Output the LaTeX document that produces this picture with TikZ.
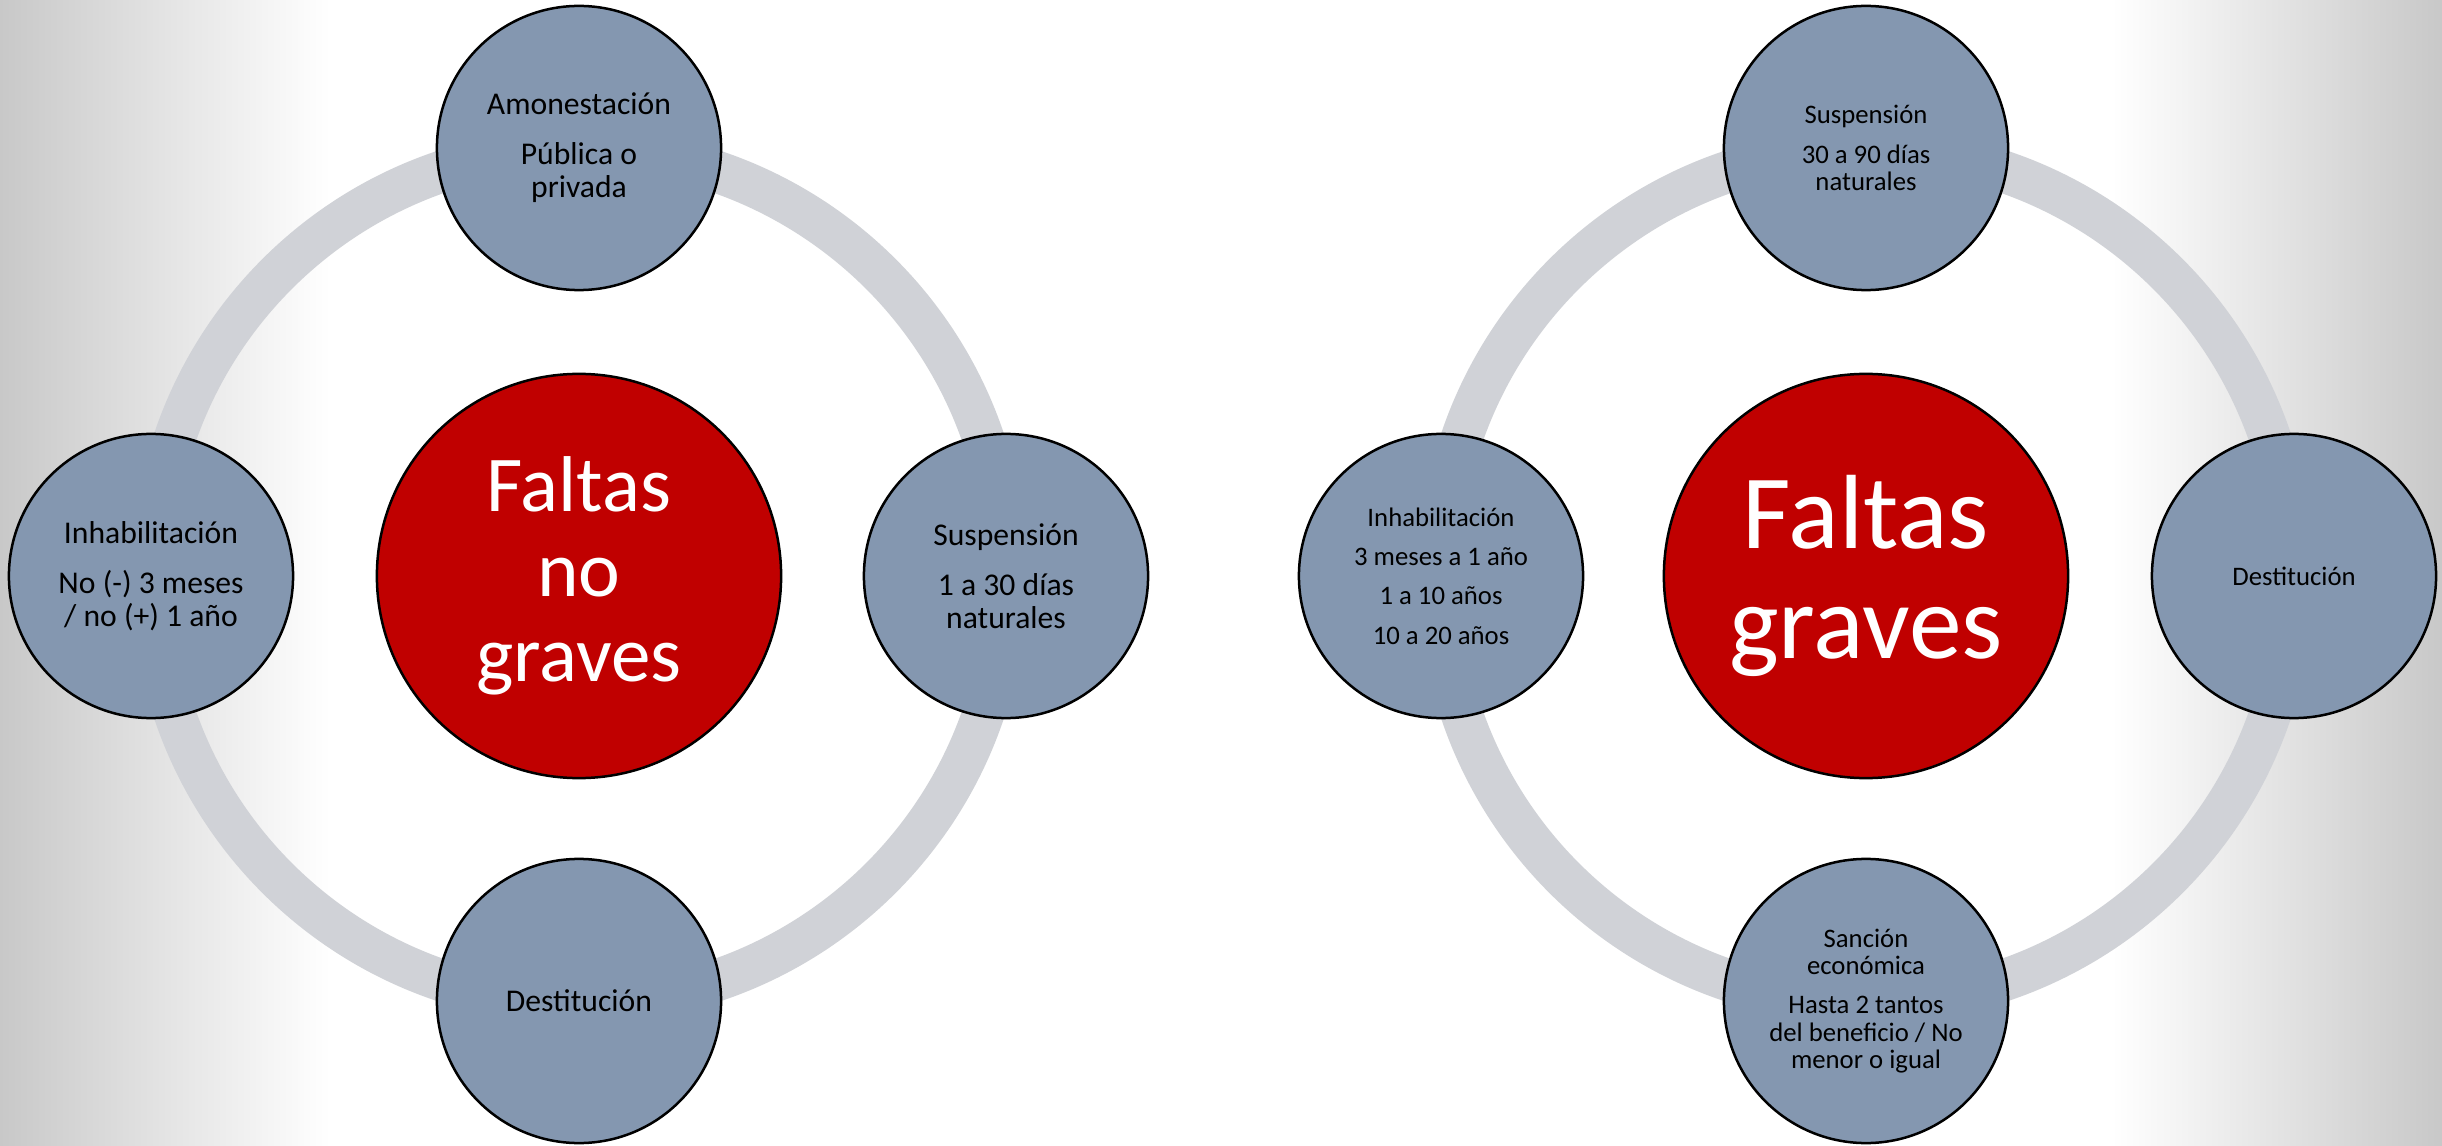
\documentclass[tikz,border=0pt]{standalone}
\usepackage{fontspec}
\setmainfont{Carlito}
\definecolor{satfill}{RGB}{132,151,176}
\definecolor{corefill}{RGB}{192,0,0}
\definecolor{ringcol}{RGB}{208,210,215}
\definecolor{edgegray}{RGB}{200,200,200}
\tikzset{
  sat/.style={circle, fill=satfill, draw=black, line width=0.025cm, minimum size=2.84cm, inner sep=0pt, align=center, text=black},
  satL/.style={sat, font={\fontsize{9}{9.4}\selectfont}},
  satR/.style={sat, font={\fontsize{7.6}{7.8}\selectfont}},
  core/.style={circle, fill=corefill, draw=black, line width=0.025cm, minimum size=4.04cm, inner sep=0pt, align=center, text=white},
  ringline/.style={draw=ringcol, line width=0.42cm}
}
\begin{document}
\begin{tikzpicture}[x=0.01cm,y=-0.01cm]
\useasboundingbox (0,0) rectangle (2442,1146);
\fill[white] (0,0) rectangle (2442,1146);
\shade[left color=edgegray, right color=white] (0,0) rectangle (330,1146);
\shade[left color=white, right color=edgegray] (2112,0) rectangle (2442,1146);
% left group
\coordinate (CL) at (579,576);
\draw[ringline] (CL) circle[radius=427];
\node[core, font={\fontsize{22.5}{24.2}\selectfont}] (L) at (CL) {Faltas\\no\\graves};
\node[satL] (LT) at (579,148) {Amonestación\\[4.8pt]Pública o\\privada};
\node[satL] (LR) at (1006,576) {Suspensión\\[4.8pt]1 a 30 días\\naturales};
\node[satL] (LB) at (579,1001) {Destitución};
\node[satL] (LL) at (151,576) {Inhabilitación\\[4.8pt]No (-) 3 meses\\/ no (+) 1 año};
% right group
\coordinate (CR) at (1866,576);
\draw[ringline] (CR) circle[radius=427];
\node[core, font={\fontsize{30}{31.5}\selectfont}] (R) at (CR) {Faltas\\graves};
\node[satR] (RT) at (1866,148) {Suspensión\\[3.4pt]30 a 90 días\\naturales};
\node[satR] (RR) at (2294,576) {Destitución};
\node[satR] (RB) at (1866,1001) {Sanción\\económica\\[3.4pt]Hasta 2 tantos\\del beneficio / No\\menor o igual};
\node[satR] (RL) at (1441,576) {Inhabilitación\\[3.4pt]3 meses a 1 año\\[3.4pt]1 a 10 años\\[3.4pt]10 a 20 años};
\end{tikzpicture}
\end{document}
